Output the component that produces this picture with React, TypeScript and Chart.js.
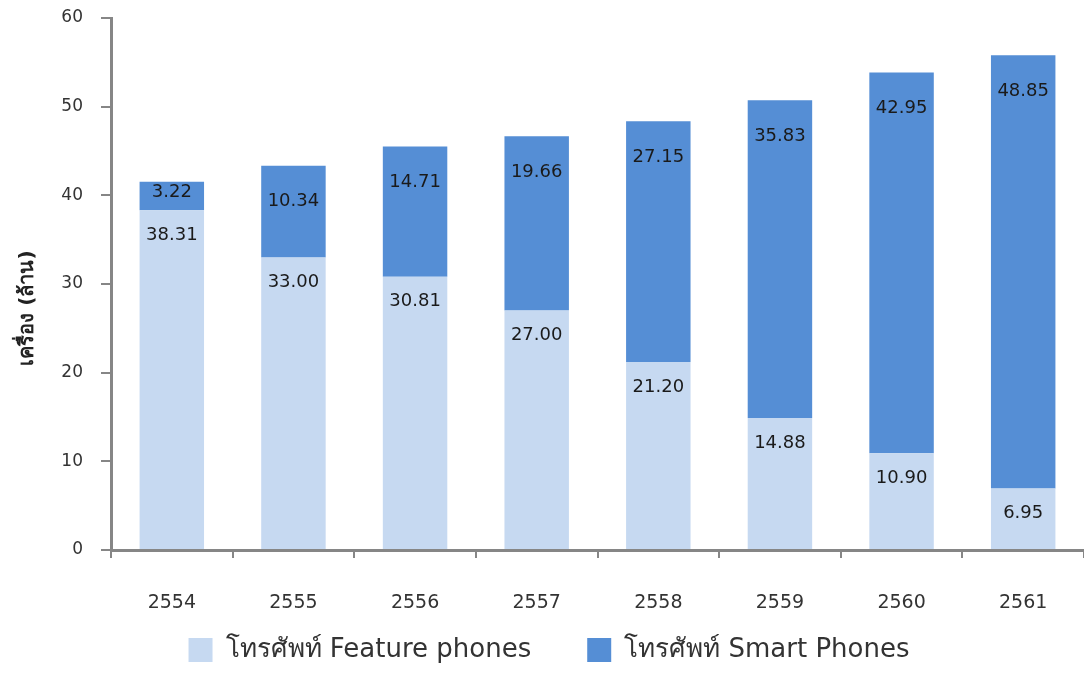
import React, { useEffect, useRef } from "react";
import { Chart, registerables } from "chart.js";

Chart.register(...registerables);

const categories = ["2554", "2555", "2556", "2557", "2558", "2559", "2560", "2561"];
const featurePhones = [38.31, 33.0, 30.81, 27.0, 21.2, 14.88, 10.9, 6.95];
const smartPhones = [3.22, 10.34, 14.71, 19.66, 27.15, 35.83, 42.95, 48.85];
const seriesNames = ["โทรศัพท์ Feature phones", "โทรศัพท์ Smart Phones"];
const yTitle = "เครื่อง (ล้าน)";

const FONT = "Tahoma, 'DejaVu Sans', 'Noto Sans', sans-serif";
const labelOffsets = [25, 36];

const labelPlugin = {
  id: "segLabels",
  afterDatasetsDraw(chart: any) {
    const ctx = chart.ctx;
    ctx.save();
    ctx.font = `18px ${FONT}`;
    ctx.fillStyle = "#1a1a1a";
    ctx.textAlign = "center";
    ctx.textBaseline = "middle";
    chart.data.datasets.forEach((ds: any, di: number) => {
      const meta = chart.getDatasetMeta(di);
      meta.data.forEach((bar: any, i: number) => {
        const top = Math.min(bar.y, bar.base);
        const h = Math.abs(bar.base - bar.y);
        const y = top + Math.min(labelOffsets[di], h / 2 - 4);
        ctx.fillText(Number(ds.data[i]).toFixed(2), bar.x, y);
      });
    });
    ctx.restore();
  },
  afterDraw(chart: any) {
    const ctx = chart.ctx;
    // x-axis category labels, positioned by the category scale
    const xs = chart.scales.x;
    ctx.save();
    ctx.font = `19px ${FONT}`;
    ctx.fillStyle = "#333";
    ctx.textAlign = "center";
    ctx.textBaseline = "middle";
    chart.data.labels.forEach((lab: string, i: number) => {
      ctx.fillText(lab, xs.getPixelForTick(i), xs.top + 53);
    });
    ctx.restore();
    // y-axis title
    ctx.save();
    ctx.translate(28, 308);
    ctx.rotate(-Math.PI / 2);
    ctx.font = `bold 20px ${FONT}`;
    ctx.fillStyle = "#222";
    ctx.textAlign = "center";
    ctx.textBaseline = "middle";
    ctx.fillText(yTitle, 0, 0);
    ctx.restore();
  },
};

export default function App() {
  const ref = useRef<HTMLCanvasElement | null>(null);
  useEffect(() => {
    if (!ref.current) return;
    const chart = new Chart(ref.current, {
      type: "bar",
      data: {
        labels: categories,
        datasets: [
          {
            label: seriesNames[0],
            data: featurePhones,
            backgroundColor: "#C6D9F1",
            categoryPercentage: 1,
            barPercentage: 0.53,
          },
          {
            label: seriesNames[1],
            data: smartPhones,
            backgroundColor: "#558ED5",
            categoryPercentage: 1,
            barPercentage: 0.53,
          },
        ],
      },
      options: {
        animation: false,
        responsive: false,
        maintainAspectRatio: false,
        layout: { padding: { top: 18, left: 14, right: 0, bottom: 0 } },
        plugins: {
          legend: {
            position: "bottom",
            labels: {
              boxWidth: 24,
              boxHeight: 24,
              padding: 56,
              color: "#333",
              font: { family: FONT, size: 26 },
            },
          },
          tooltip: { enabled: false },
        },
        scales: {
          x: {
            stacked: true,
            grid: {
              display: true,
              offset: true,
              drawOnChartArea: false,
              drawTicks: true,
              tickLength: 8,
              color: "#868686",
              lineWidth: 2,
            },
            border: { display: true, color: "#868686", width: 3 },
            ticks: { display: false },
            afterFit: (s: any) => {
              s.height = 31;
              s.paddingLeft = 0;
              s.paddingRight = 0;
            },
          },
          y: {
            stacked: true,
            min: 0,
            max: 60,
            ticks: {
              stepSize: 10,
              padding: 18,
              color: "#333",
              font: { family: FONT, size: 17 },
            },
            grid: {
              display: true,
              drawOnChartArea: false,
              tickLength: 10,
              color: "#868686",
              lineWidth: 2,
            },
            border: { display: true, color: "#868686", width: 3 },
            afterFit: (s: any) => {
              s.width = 97;
              s.paddingTop = 0;
              s.paddingBottom = 0;
            },
          },
        },
      },
      plugins: [labelPlugin],
    });
    return () => chart.destroy();
  }, []);
  return (
    <div style={{ position: "fixed", left: 0, top: 0, width: 1084, height: 673, background: "#fff" }}>
      <canvas ref={ref} width={1084} height={673} style={{ display: "block" }} />
    </div>
  );
}
